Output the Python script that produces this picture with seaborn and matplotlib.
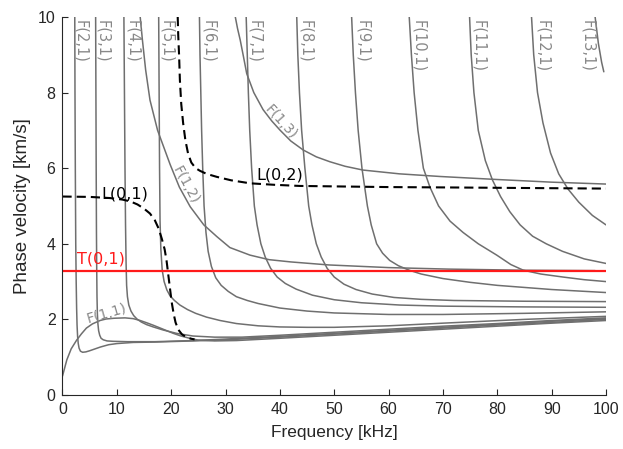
import numpy as np
import pandas as pd
import matplotlib
matplotlib.use("Agg")
import matplotlib.pyplot as plt
import seaborn as sns

# ---- dispersion curves: frequency [kHz] / phase velocity [km/s] ----
# flexural family F(1,m)
F11_f = [0, 0.8, 1.6, 2.6, 3.5, 4.4, 5.5, 6.9, 8.0, 9.5, 11.5, 13.0, 14.3, 15.5, 16.8, 18.0,
         19.2, 20.4, 21.8, 23.4, 25, 28, 32, 40, 50, 60, 70, 80, 90, 100]
F11_v = [0.5, 0.93, 1.22, 1.45, 1.62, 1.77, 1.88, 1.97, 2.01, 2.03, 2.04, 2.02, 1.97, 1.91, 1.84, 1.77,
         1.70, 1.63, 1.56, 1.50, 1.45, 1.43, 1.44, 1.50, 1.58, 1.66, 1.74, 1.82, 1.90, 1.97]
F12_f = [14.3, 14.7, 15.3, 16.1, 17.5, 19.8, 21.5, 23.5, 26.0, 28.4, 30.8, 34.5, 38, 42, 49, 60, 71, 85, 98]
F12_v = [10.0, 9.4, 8.6, 7.8, 7.0, 6.1, 5.5, 4.98, 4.5, 4.19, 3.9, 3.7, 3.58, 3.52, 3.44, 3.37, 3.33, 3.30, 3.29]
F13_f = [31.8, 32.2, 32.7, 33.3, 33.9, 35.2, 36.9, 38.5, 40, 42, 44.3, 46.7, 49.2, 52, 55.3, 62, 69.5, 80, 90, 100]
F13_v = [10.0, 9.7, 9.39, 8.95, 8.5, 8.0, 7.55, 7.25, 7.01, 6.72, 6.48, 6.3, 6.17, 6.05, 5.95, 5.85, 5.78, 5.70, 5.63, 5.58]

# flexural family F(n,1), n = 2..13
F21_f = [2.26, 2.3, 2.36, 2.44, 2.52, 2.6, 2.68, 2.78, 2.9, 3.05, 3.3, 3.7, 4.3, 5.0, 6.0, 7.0, 8.5, 10, 13, 17,
         24, 30, 40, 50, 60, 70, 80, 90, 100]
F21_v = [10.0, 8.0, 6.0, 4.0, 3.0, 2.3, 1.85, 1.55, 1.36, 1.24, 1.16, 1.13, 1.14, 1.17, 1.22, 1.27, 1.33, 1.36, 1.39, 1.40,
         1.43, 1.46, 1.53, 1.61, 1.69, 1.77, 1.85, 1.92, 2.0]
F31_f = [6.1, 6.15, 6.2, 6.25, 6.3, 6.35, 6.42, 6.52, 6.65, 6.85, 7.1, 7.5, 8.2, 9.3, 12, 17, 24, 30, 40, 50, 60, 70, 80, 90, 100]
F31_v = [10.0, 8.0, 6.0, 4.3, 3.3, 2.6, 2.15, 1.88, 1.7, 1.58, 1.5, 1.46, 1.43, 1.42, 1.41, 1.41, 1.44, 1.48, 1.55, 1.63, 1.71, 1.79, 1.87, 1.95, 2.02]
F41_f = [11.3, 11.4, 11.5, 11.6, 11.7, 11.8, 11.95, 12.2, 12.6, 13.1, 13.7, 14.5, 15.5, 16.7, 18.5, 21, 24, 28, 33,
         40, 50, 60, 70, 80, 90, 100]
F41_v = [10.0, 8.0, 6.0, 4.5, 3.5, 2.9, 2.6, 2.38, 2.22, 2.1, 2.01, 1.93, 1.86, 1.80, 1.72, 1.63, 1.56, 1.53, 1.53,
         1.58, 1.66, 1.74, 1.82, 1.89, 1.97, 2.04]
F51_f = [17.7, 17.78, 17.86, 17.95, 18.1, 18.35, 18.7, 19.2, 19.8, 20.6, 21.6, 23, 24.5, 26.5, 29, 32, 36, 40, 45, 50,
         60, 70, 85, 100]
F51_v = [10.0, 8.0, 6.0, 4.6, 3.85, 3.3, 3.0, 2.78, 2.62, 2.5, 2.38, 2.26, 2.16, 2.06, 1.97, 1.89, 1.83, 1.80, 1.79, 1.79,
         1.83, 1.9, 2.0, 2.08]
F61_f = [25.2, 25.3, 25.45, 25.6, 25.8, 26.05, 26.4, 26.8, 27.4, 28.2, 29.2, 30.5, 32, 34, 36, 40, 45, 50, 60, 70, 85, 100]
F61_v = [10.0, 9.0, 8.0, 7.0, 6.0, 5.0, 4.3, 3.8, 3.4, 3.1, 2.9, 2.74, 2.6, 2.5, 2.42, 2.3, 2.22, 2.17, 2.13, 2.13, 2.16, 2.2]
F71_f = [33.8, 34.0, 34.2, 34.45, 34.8, 35.3, 35.8, 36.5, 37.3, 38.3, 39.5, 41, 43, 46, 50, 55, 62, 70, 85, 100]
F71_v = [10.0, 9.0, 8.0, 7.0, 6.0, 5.0, 4.5, 4.0, 3.65, 3.35, 3.12, 2.95, 2.8, 2.64, 2.52, 2.44, 2.38, 2.35, 2.33, 2.32]
F81_f = [43.1, 43.3, 43.6, 44.0, 44.6, 45.3, 45.9, 46.7, 47.6, 48.7, 50, 51.8, 54, 57, 61, 66, 72, 85, 100]
F81_v = [10.0, 9.0, 8.0, 7.0, 6.0, 5.0, 4.5, 4.0, 3.65, 3.35, 3.12, 2.93, 2.79, 2.67, 2.58, 2.53, 2.5, 2.48, 2.47]
F91_f = [53.2, 53.5, 53.9, 54.4, 55.1, 56.1, 56.8, 57.8, 58.9, 60.2, 61.8, 63.8, 66, 70, 75, 80, 90, 100]
F91_v = [10.0, 9.0, 8.0, 7.0, 6.0, 5.0, 4.5, 4.0, 3.75, 3.56, 3.42, 3.3, 3.2, 3.08, 2.98, 2.9, 2.79, 2.71]
F101_f = [63.8, 64.2, 64.7, 65.4, 66.4, 67.6, 69.2, 71.3, 73.7, 76.5, 79.9, 82.5, 84.8, 88, 92.1, 96, 100]
F101_v = [10.0, 9.0, 8.0, 7.0, 6.0, 5.5, 5.0, 4.6, 4.3, 4.0, 3.7, 3.45, 3.3, 3.2, 3.12, 3.05, 3.0]
F111_f = [74.9, 75.2, 75.7, 76.5, 77.8, 79.1, 80.6, 82.3, 84.2, 86.5, 89, 92, 96, 100]
F111_v = [10.0, 9.0, 8.0, 7.0, 6.2, 5.69, 5.25, 4.85, 4.5, 4.2, 4.0, 3.8, 3.6, 3.48]
F121_f = [86.3, 86.7, 87.4, 88.4, 89.8, 91.3, 93, 95, 97.5, 100]
F121_v = [10.0, 9.0, 8.0, 7.2, 6.4, 5.85, 5.45, 5.1, 4.75, 4.5]
F131_f = [98.0, 98.6, 99.2, 99.6]
F131_v = [10.0, 9.3, 8.8, 8.55]

# longitudinal modes
L01_f = [0, 5, 8.7, 11, 12.5, 13.8, 15, 16.1, 17.0, 17.7, 18.3, 18.8, 19.15, 19.45, 19.75, 20.1, 20.45, 20.8,
         21.3, 22, 22.8, 23.6, 24.3]
L01_v = [5.25, 5.24, 5.21, 5.17, 5.12, 5.04, 4.93, 4.8, 4.62, 4.4, 4.12, 3.85, 3.55, 3.2, 2.85, 2.45, 2.15, 1.92,
         1.73, 1.6, 1.53, 1.49, 1.47]
L02_f = [21.2, 21.3, 21.45, 21.6, 21.85, 22.2, 22.6, 23.1, 23.7, 24.5, 25.3, 26.5, 28.4, 31, 34.5, 39, 43.7, 60, 71.3, 100]
L02_v = [10.0, 9.5, 9.0, 8.33, 7.7, 7.19, 6.75, 6.39, 6.15, 6.0, 5.93, 5.85, 5.77, 5.68, 5.6, 5.56, 5.53, 5.5, 5.49, 5.46]

# torsional mode
T01_f = [0, 100]
T01_v = [3.27, 3.27]

flexural = {
    "F(1,1)": (F11_f, F11_v), "F(1,2)": (F12_f, F12_v), "F(1,3)": (F13_f, F13_v),
    "F(2,1)": (F21_f, F21_v), "F(3,1)": (F31_f, F31_v), "F(4,1)": (F41_f, F41_v),
    "F(5,1)": (F51_f, F51_v), "F(6,1)": (F61_f, F61_v), "F(7,1)": (F71_f, F71_v),
    "F(8,1)": (F81_f, F81_v), "F(9,1)": (F91_f, F91_v), "F(10,1)": (F101_f, F101_v),
    "F(11,1)": (F111_f, F111_v), "F(12,1)": (F121_f, F121_v), "F(13,1)": (F131_f, F131_v),
}
flex_df = pd.concat(
    [pd.DataFrame({"mode": k, "freq": f, "vel": v}) for k, (f, v) in flexural.items()],
    ignore_index=True)

# labels of the F(n,1) branches, written down along each cut-off
fn1_names = ["F(2,1)", "F(3,1)", "F(4,1)", "F(5,1)", "F(6,1)", "F(7,1)", "F(8,1)",
             "F(9,1)", "F(10,1)", "F(11,1)", "F(12,1)", "F(13,1)"]
fn1_label_x = [3.4, 7.45, 12.9, 19.2, 26.8, 35.4, 44.8, 55.2, 65.6, 76.6, 88.3, 96.6]

# ---- figure ----
sns.set_theme(style="ticks")
plt.rcParams["font.family"] = ["Liberation Sans", "DejaVu Sans"]

fig = plt.figure(figsize=(6.23, 4.49), dpi=100)
ax = fig.add_axes([0.1003, 0.1203, 0.8724, 0.8419])

gray = "#6f6f6f"
dash = (0, (4.4, 2.4))
sns.lineplot(data=flex_df, x="freq", y="vel", units="mode", estimator=None, sort=False,
             color=gray, lw=1.1, ax=ax, legend=False)
sns.lineplot(x=L01_f, y=L01_v, sort=False, estimator=None, color="black", lw=1.5,
             linestyle=dash, ax=ax)
sns.lineplot(x=L02_f, y=L02_v, sort=False, estimator=None, color="black", lw=1.5,
             linestyle=dash, ax=ax)
sns.lineplot(x=T01_f, y=T01_v, sort=False, estimator=None, color="#ff1a1a", lw=1.6, ax=ax)

# mode names
lab_gray = "#888888"
for name, xl in zip(fn1_names, fn1_label_x):
    ax.text(xl, 9.93, name, rotation=-90, ha="center", va="top", fontsize=10.5,
            color=lab_gray, family="DejaVu Sans")
ax.text(8.1, 2.15, "F(1,1)", rotation=16, ha="center", va="center", fontsize=10,
        color=lab_gray, family="DejaVu Sans")
ax.text(22.7, 5.56, "F(1,2)", rotation=-61.5, ha="center", va="center", fontsize=10,
        color=lab_gray, family="DejaVu Sans")
ax.text(40.2, 7.21, "F(1,3)", rotation=-48, ha="center", va="center", fontsize=10,
        color=lab_gray, family="DejaVu Sans")
ax.text(11.5, 5.32, "L(0,1)", ha="center", va="center", fontsize=11.5, color="black",
        family="DejaVu Sans")
ax.text(39.9, 5.82, "L(0,2)", ha="center", va="center", fontsize=11.5, color="black",
        family="DejaVu Sans")
ax.text(2.7, 3.40, "T(0,1)", ha="left", va="bottom", fontsize=11.5, color="#ff1a1a",
        family="DejaVu Sans")

# axes
ax.set_xlim(0, 100)
ax.set_ylim(0, 10)
ax.set_xticks(np.arange(0, 101, 10))
ax.set_yticks(np.arange(0, 11, 2))
ax.set_xlabel("Frequency [kHz]", fontsize=12.5, color="#262626", labelpad=6)
ax.set_ylabel("Phase velocity [km/s]", fontsize=13.5, color="#262626", labelpad=5)
ax.tick_params(direction="in", length=4, width=0.8, labelsize=11.5, colors="#262626", pad=5)
for s in ("top", "right"):
    ax.spines[s].set_visible(False)
for s in ("left", "bottom"):
    ax.spines[s].set_color("#262626")
    ax.spines[s].set_linewidth(0.8)
ax.set_facecolor("white")
fig.patch.set_facecolor("white")

fig.savefig("out.png", dpi=100)
